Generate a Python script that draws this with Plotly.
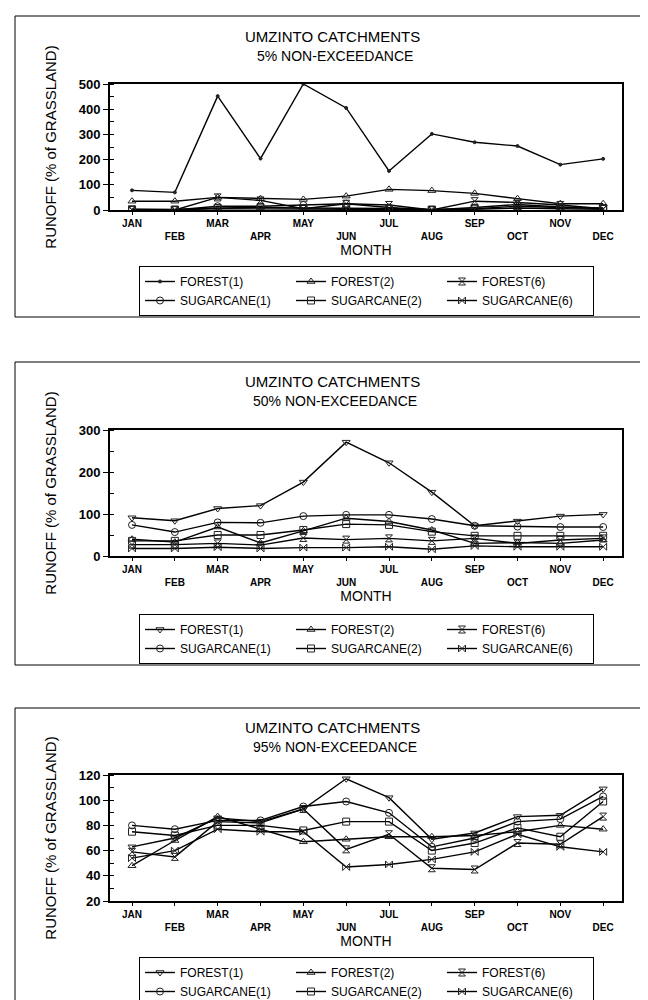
import plotly.graph_objects as go

months = ["JAN", "FEB", "MAR", "APR", "MAY", "JUN", "JUL", "AUG", "SEP", "OCT", "NOV", "DEC"]
month_num = list(range(1, 13))
tick_text = [m if i % 2 == 0 else "<br>" + m for i, m in enumerate(months)]

series_names = ["FOREST(1)", "FOREST(2)", "FOREST(6)", "SUGARCANE(1)", "SUGARCANE(2)", "SUGARCANE(6)"]

# 5% non-exceedance
p05_forest1 = [78, 70, 452, 204, 500, 405, 155, 302, 269, 254, 180, 203]
p05_forest2 = [35, 35, 50, 45, 42, 55, 82, 77, 66, 45, 25, 25]
p05_forest6 = [0, 0, 50, 38, 5, 25, 20, 0, 35, 30, 20, 5]
p05_sugar1 = [1, 0, 15, 15, 20, 25, 10, 0, 10, 22, 12, 6]
p05_sugar2 = [3, 2, 8, 10, 8, 8, 6, 2, 5, 15, 10, 8]
p05_sugar6 = [2, 1, 5, 4, 2, 3, 3, 1, 3, 8, 5, 3]

# 50% non-exceedance
p50_forest1 = [91, 84, 113, 120, 176, 271, 222, 152, 72, 83, 95, 99]
p50_forest2 = [40, 33, 69, 31, 60, 90, 82, 62, 30, 32, 30, 38]
p50_forest6 = [27, 27, 30, 26, 43, 39, 42, 36, 42, 30, 38, 42]
p50_sugar1 = [74, 57, 80, 79, 95, 98, 98, 88, 72, 70, 69, 69]
p50_sugar2 = [36, 36, 50, 50, 62, 76, 74, 58, 48, 48, 48, 48]
p50_sugar6 = [18, 18, 21, 18, 20, 20, 22, 16, 24, 22, 22, 22]

# 95% non-exceedance
p95_forest1 = [63, 70, 86, 83, 93, 117, 102, 69, 74, 87, 88, 109]
p95_forest2 = [48, 68, 87, 77, 67, 69, 71, 71, 72, 75, 80, 77]
p95_forest6 = [59, 55, 83, 82, 93, 61, 73, 46, 45, 66, 65, 87]
p95_sugar1 = [80, 77, 84, 84, 95, 99, 90, 63, 70, 83, 85, 103]
p95_sugar2 = [75, 72, 80, 80, 76, 83, 83, 60, 66, 78, 71, 99]
p95_sugar6 = [54, 60, 77, 75, 75, 47, 49, 53, 59, 73, 63, 59]

panels = [
    {"sub": "5% NON-EXCEEDANCE",
     "data": [p05_forest1, p05_forest2, p05_forest6, p05_sugar1, p05_sugar2, p05_sugar6],
     "yrange": [0, 500], "dtick": 100},
    {"sub": "50% NON-EXCEEDANCE",
     "data": [p50_forest1, p50_forest2, p50_forest6, p50_sugar1, p50_sugar2, p50_sugar6],
     "yrange": [0, 300], "dtick": 100},
    {"sub": "95% NON-EXCEEDANCE",
     "data": [p95_forest1, p95_forest2, p95_forest6, p95_sugar1, p95_sugar2, p95_sugar6],
     "yrange": [20, 120], "dtick": 20},
]

symbols = ["triangle-down-open", "triangle-up-open", "hourglass-open",
           "circle-open", "square-open", "bowtie-open"]

W, H = 648, 1000
ML, MR = 102, 34
PW = W - ML - MR

geo = [
    {"ptop": 76, "pbot": 202, "btop": 8, "bbot": 309, "ty": 28, "sy": 48, "ly": 258},
    {"ptop": 422, "pbot": 548, "btop": 354, "bbot": 657, "ty": 373, "sy": 393, "ly": 606},
    {"ptop": 767, "pbot": 893, "btop": 700, "bbot": 999, "ty": 719, "sy": 739, "ly": 949},
]

def py(p):
    return 1 - p / H

def px(p):
    return (p - ML) / PW

FONT = "Liberation Sans, Arial, sans-serif"
fig = go.Figure()
layout = dict(
    width=W, height=H,
    margin=dict(l=ML, r=MR, t=0, b=0),
    paper_bgcolor="white", plot_bgcolor="white",
    font=dict(family=FONT, color="black"),
    showlegend=True,
    shapes=[], annotations=[],
)

for k, pan in enumerate(panels):
    sfx = "" if k == 0 else str(k + 1)
    g = geo[k]
    lg = "legend" if k == 0 else "legend" + str(k + 1)
    for j, (name, vals) in enumerate(zip(series_names, pan["data"])):
        sym = symbols[j]
        size = 7
        if k == 0 and j == 0:
            sym = "circle"
            size = 3
        fig.add_trace(go.Scatter(
            x=month_num, y=vals, name=name, mode="lines+markers",
            xaxis="x" + sfx, yaxis="y" + sfx, legend=lg,
            line=dict(color="black", width=1.4),
            marker=dict(symbol=sym, size=size, color="#222", line=dict(width=1, color="#222")),
        ))
    layout["xaxis" + sfx] = dict(
        domain=[0, 1], anchor="y" + sfx, range=[0.486, 12.44],
        tickmode="array", tickvals=month_num, ticktext=tick_text,
        ticks="outside", ticklen=3, tickcolor="black",
        showline=True, linecolor="black", linewidth=2, mirror=True,
        showgrid=False, zeroline=False,
        tickfont=dict(family=FONT, size=10, weight="bold"),
        title=dict(text="MONTH", font=dict(family=FONT, size=14), standoff=2),
        automargin=False,
    )
    layout["yaxis" + sfx] = dict(
        domain=[py(g["pbot"]), py(g["ptop"])], anchor="x" + sfx,
        range=pan["yrange"], dtick=pan["dtick"], tick0=0,
        ticks="outside", ticklen=5, tickcolor="black",
        minor=dict(ticks="inside", ticklen=4, dtick=pan["dtick"] / 2, tickcolor="black"),
        showline=True, linecolor="black", linewidth=2, mirror=True,
        showgrid=False, zeroline=False,
        tickfont=dict(family=FONT, size=13, weight="bold"),
        title=dict(text="RUNOFF (% of GRASSLAND)", font=dict(family=FONT, size=15), standoff=18),
        automargin=False,
    )
    layout[lg] = dict(
        orientation="h", entrywidth=106, entrywidthmode="pixels",
        x=px(131), xanchor="left", y=py(g["ly"]), yanchor="top",
        xref="paper", yref="paper",
        bordercolor="black", borderwidth=1, bgcolor="white",
        font=dict(family=FONT, size=12), traceorder="normal",
    )
    layout["shapes"].append(dict(
        type="rect", xref="paper", yref="paper",
        x0=px(7), x1=px(660), y0=py(g["bbot"]), y1=py(g["btop"]),
        line=dict(color="black", width=1), layer="below",
    ))
    layout["annotations"].append(dict(
        text="UMZINTO CATCHMENTS", xref="paper", yref="paper",
        x=px(324), y=py(g["ty"]), showarrow=False, xanchor="center", yanchor="middle",
        font=dict(family=FONT, size=15),
    ))
    layout["annotations"].append(dict(
        text=pan["sub"], xref="paper", yref="paper",
        x=px(327), y=py(g["sy"]), showarrow=False, xanchor="center", yanchor="middle",
        font=dict(family=FONT, size=14),
    ))

fig.update_layout(**layout)
fig.write_html("out.html")
